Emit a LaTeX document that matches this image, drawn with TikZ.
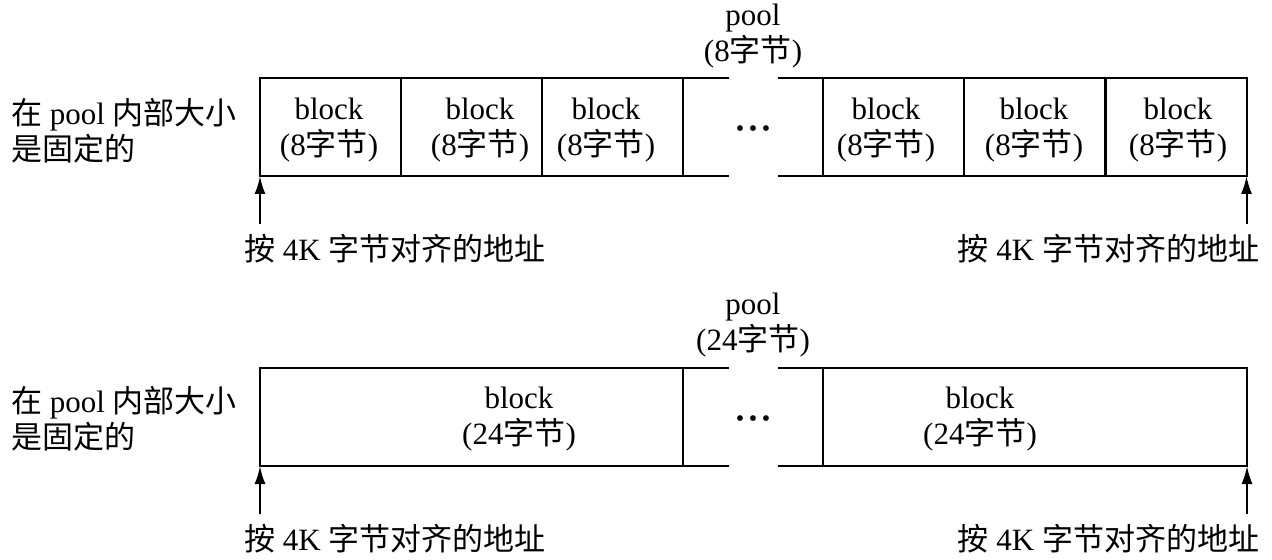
\documentclass[tikz,border=0pt]{standalone}
\usepackage{fontspec}
\setmainfont{Liberation Serif}
\newfontfamily\cjk{Noto Sans CJK SC}
\newcommand{\zh}[1]{{\cjk #1}}
\newcommand{\threedots}{{\fontsize{12}{12}\selectfont\textbullet\hspace{2.3pt}\textbullet\hspace{2.3pt}\textbullet}}
\usetikzlibrary{arrows.meta}

\begin{document}
\begin{tikzpicture}
  [x=0.5pt,y=-0.5pt,line width=1pt,
   every node/.style={font=\fontsize{15.5}{18}\selectfont,align=center,inner sep=0pt},
   blk/.style={draw,outer sep=0pt,minimum width=70.5pt,minimum height=49pt},
   addr/.style={inner ysep=5pt},
   up/.style={-{Latex[length=9pt,width=5.5pt]}}]
  \useasboundingbox (0,0) rectangle (1272,560);
  % top pool: 8 byte blocks
  \node (d1) [anchor=west,align=left] at (10,131) {\zh{在} pool \zh{内部大小}\\\zh{是固定的}};
  \node (p1) at (753,36) {pool\\(8\zh{字节})};
  \foreach \n/\x/\tx in {a1/330.5/329,a2/471.5/480,a3/612.5/606,a4/893.5/886,a5/1034.5/1034,a6/1176/1178}
  {
    \node[blk] (\n) at (\x,127) {};
    \node (t\n) at (\tx,130) {block\\(8\zh{字节})};
  }
  \node (dots1) at (753,131) {\threedots};
  \draw (a3.north east) -- ++(46,0);
  \draw (a3.south east) -- ++(46,0);
  \draw (a4.north west) -- ++(-45,0);
  \draw (a4.south west) -- ++(-45,0);
  \node (l1) [addr,anchor=west] at (243,249) {\zh{按} 4K \zh{字节对齐的地址}};
  \node (r1) [addr,anchor=east] at (1260,249) {\zh{按} 4K \zh{字节对齐的地址}};
  \draw[up] (a1.south west |- l1.north) -- (a1.south west);
  \draw[up] (a6.south east |- r1.north) -- (a6.south east);

  % bottom pool: 24 byte blocks
  \node (d2) [anchor=west,align=left] at (10,419) {\zh{在} pool \zh{内部大小}\\\zh{是固定的}};
  \node (p2) at (753,325) {pool\\(24\zh{字节})};
  \node[blk,minimum width=211.5pt] (b1) at (471.5,417) {};
  \node[blk,minimum width=212pt] (b2) at (1035,417) {};
  \node (tb1) at (519,419) {block\\(24\zh{字节})};
  \node (tb2) at (980,419) {block\\(24\zh{字节})};
  \node (dots2) at (753,421) {\threedots};
  \draw (b1.north east) -- ++(46,0);
  \draw (b1.south east) -- ++(46,0);
  \draw (b2.north west) -- ++(-45,0);
  \draw (b2.south west) -- ++(-45,0);
  \node (l2) [addr,anchor=west] at (243,539) {\zh{按} 4K \zh{字节对齐的地址}};
  \node (r2) [addr,anchor=east] at (1260,539) {\zh{按} 4K \zh{字节对齐的地址}};
  \draw[up] (b1.south west |- l2.north) -- (b1.south west);
  \draw[up] (b2.south east |- r2.north) -- (b2.south east);
\end{tikzpicture}
\end{document}
